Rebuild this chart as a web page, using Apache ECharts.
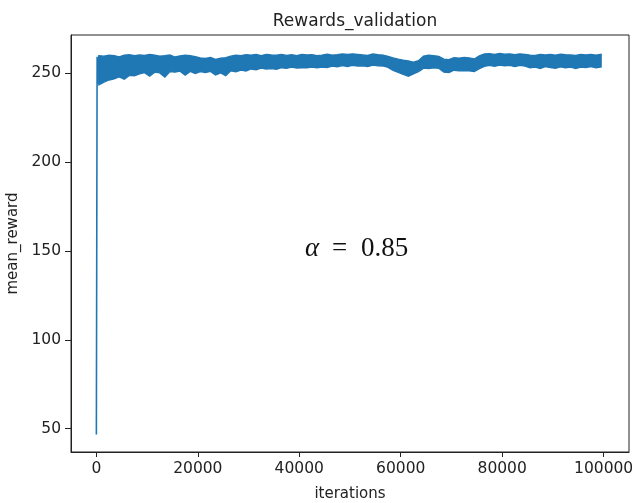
<!DOCTYPE html>
<html>
<head>
<meta charset="utf-8">
<script src="https://cdn.jsdelivr.net/npm/echarts@6/dist/echarts.min.js"></script>
<style>
    html, body { margin: 0; padding: 0; background: #fff; }
    #chart { width: 634px; height: 503px; }
</style>
</head>
<body>
<div id="chart"></div>
<script>
// 读图得到的数据 ---------------------------- start
// 起始点 (iteration, reward)
var startIters = [0, 150, 300];
var startValues = [46.8, 259.2, 244.0];
// 每 1000 次迭代的噪声带上沿 / 下沿
var upperBand = [
    259.8, 259.6, 260.2, 259.9, 259.2, 260.1, 260.4, 259.8, 260.3, 260.0,
    260.5, 260.2, 259.6, 259.9, 260.3, 259.1, 259.7, 260.1, 259.8, 259.3,
    258.6, 258.3, 258.9, 257.8, 258.4, 258.7, 259.6, 260.1, 259.9, 260.4,
    260.2, 260.5, 259.9, 260.6, 260.3, 260.1, 260.5, 260.0, 260.4, 259.8,
    260.6, 260.3, 260.4, 259.9, 260.2, 260.7, 260.2, 260.4, 260.8, 260.5,
    260.9, 260.6, 260.3, 260.0, 260.8, 260.4, 260.2, 259.5, 258.6, 257.9,
    257.3, 256.9, 256.2, 257.0, 259.6, 260.1, 259.8, 259.4, 257.9, 257.6,
    258.7, 258.4, 258.9, 258.6, 258.0, 259.8, 260.8, 261.0, 260.6, 261.1,
    260.7, 260.9, 260.4, 260.9, 260.6, 260.2, 260.0, 260.5, 260.3, 260.6,
    260.1, 260.7, 260.4, 260.3, 260.0, 260.6, 260.3, 260.5, 260.2, 260.6
];
var lowerBand = [
    243.5, 245.0, 246.2, 246.8, 247.9, 246.6, 248.8, 248.5, 249.6, 250.3,
    248.4, 250.6, 250.2, 247.8, 250.9, 250.6, 251.2, 248.9, 251.0, 249.8,
    250.9, 250.4, 251.0, 249.0, 250.2, 248.6, 251.4, 250.8, 251.8, 251.3,
    252.4, 252.0, 252.9, 252.4, 252.6, 252.2, 253.1, 252.8, 253.4, 252.9,
    253.1, 253.0, 253.5, 253.1, 253.4, 253.2, 254.0, 253.6, 254.3, 253.8,
    254.4, 254.0, 254.2, 253.8, 254.6, 254.2, 254.1, 253.3, 251.6, 250.5,
    249.4, 248.3, 249.6, 250.9, 252.9, 252.6, 253.1, 252.8, 250.6, 250.4,
    251.7, 251.3, 251.5, 251.4, 250.9, 252.6, 253.9, 254.4, 253.9, 254.6,
    254.2, 254.4, 253.7, 254.5, 254.0, 253.0, 253.5, 252.7, 253.7, 253.2,
    252.8, 253.6, 253.0, 253.4, 252.6, 253.5, 253.2, 253.8, 253.1, 253.5
];
var bandStep = 1000;
// 刻度
var xTicks = [0, 20000, 40000, 60000, 80000, 100000];
var yTicks = [50, 100, 150, 200, 250];
// 读图得到的数据 ---------------------------- end

var blue = '#1f77b4';
var font = 'DejaVu Sans';
var ink = '#222';

// 起始竖线
var spikeData = [];
for (var i = 0; i < startIters.length; i++) {
    spikeData.push([startIters[i], startValues[i]]);
}
spikeData.push([500, upperBand[0]]);

// 噪声带: 每一段 [x, 下沿, 上沿], 用 custom 画成多边形
var bandData = [];
for (var k = 0; k < upperBand.length; k++) {
    bandData.push([k * bandStep + 500, lowerBand[k], upperBand[k]]);
}

function renderBand(params, api) {
    if (params.dataIndex !== 0) {
        return null;
    }
    var top = [];
    var bottom = [];
    for (var j = 0; j < bandData.length; j++) {
        top.push(api.coord([bandData[j][0], bandData[j][2]]));
        bottom.unshift(api.coord([bandData[j][0], bandData[j][1]]));
    }
    return {
        type: 'polygon',
        shape: { points: top.concat(bottom) },
        style: { fill: blue, stroke: blue, lineWidth: 1.4, lineJoin: 'miter' }
    };
}

var chartObj = echarts.init(document.getElementById('chart'));
var chartOption = {
    animation: false,
    backgroundColor: '#fff',
    title: {
        text: 'Rewards_validation',
        left: 350,
        textAlign: 'center',
        top: 8,
        textStyle: {
            fontFamily: font,
            fontSize: 17,
            fontWeight: 'normal',
            color: ink
        }
    },
    grid: {
        left: 71,
        top: 35,
        width: 558,
        height: 417,
        outerBoundsMode: 'none',
        containLabel: false,
        show: true,
        borderColor: ink,
        borderWidth: 1,
        backgroundColor: 'transparent'
    },
    xAxis: {
        type: 'value',
        min: -5000,
        max: 105000,
        name: 'iterations',
        nameLocation: 'middle',
        nameGap: 35,
        nameTextStyle: { fontFamily: font, fontSize: 15, color: ink },
        axisLine: { show: true, onZero: false, lineStyle: { color: ink, width: 1 } },
        axisTick: { show: true, inside: false, length: 5, customValues: xTicks, lineStyle: { color: ink } },
        axisLabel: {
            customValues: xTicks, margin: 9, fontFamily: font, fontSize: 15.5, color: ink,
            formatter: function (v) { return String(v); }
        },
        splitLine: { show: false }
    },
    yAxis: {
        type: 'value',
        min: 36.9,
        max: 271.5,
        name: 'mean_reward',
        nameLocation: 'middle',
        nameRotate: 90,
        nameGap: 47,
        nameTextStyle: { fontFamily: font, fontSize: 15, color: ink },
        axisLine: { show: true, onZero: false, lineStyle: { color: ink, width: 1 } },
        axisTick: { show: true, inside: false, length: 6, customValues: yTicks, lineStyle: { color: ink } },
        axisLabel: {
            customValues: yTicks, margin: 10, fontFamily: font, fontSize: 15.5, color: ink,
            formatter: function (v) { return String(v); }
        },
        splitLine: { show: false }
    },
    graphic: [
        { type: 'text', left: 305, top: 235, style: { text: 'α', font: 'italic 27px "Liberation Serif"', fill: '#111' } },
        { type: 'text', left: 332, top: 235, style: { text: '=', font: '27px "Liberation Serif"', fill: '#111' } },
        { type: 'text', left: 361, top: 235, style: { text: '0.85', font: '27px "Liberation Serif"', fill: '#111' } }
    ],
    series: [
        {
            name: 'spike',
            type: 'line',
            data: spikeData,
            showSymbol: false,
            lineStyle: { color: blue, width: 1.6 }
        },
        {
            name: 'band',
            type: 'custom',
            data: bandData,
            encode: { x: 0, y: [1, 2] },
            renderItem: renderBand
        }
    ]
};
chartObj.setOption(chartOption);
</script>
</body>
</html>
